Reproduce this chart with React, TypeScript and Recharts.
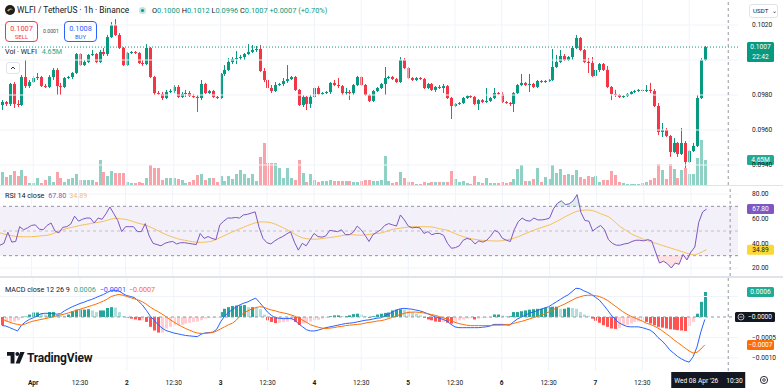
import React from "react";
import {
  ComposedChart,
  Bar,
  Line,
  Area,
  XAxis,
  YAxis,
  ReferenceLine,
  ReferenceArea,
} from "recharts";

// WLFI / USDT, 1h candles (Mar 31 16:30 .. Apr 8 04:30)
const candleOpen = [
  0.09743, 0.0976, 0.09749, 0.09863, 0.09749, 0.09743, 0.09903, 0.09851, 0.09874, 0.09897,
  0.09903, 0.09851, 0.09846, 0.09903, 0.09943, 0.09851, 0.09846, 0.09897, 0.09903, 0.09926,
  0.10034, 0.09971, 0.09989, 0.10029, 0.10034, 0.09989, 0.10046, 0.10034, 0.10131, 0.102,
  0.10143, 0.10069, 0.09971, 0.1004, 0.10046, 0.1004, 0.09983, 0.09977, 0.10069, 0.09903,
  0.09811, 0.09806, 0.09783, 0.09817, 0.09823, 0.09846, 0.09789, 0.09806, 0.09811, 0.09794,
  0.09789, 0.09783, 0.09863, 0.09811, 0.09823, 0.09789, 0.09783, 0.0992, 0.09943, 0.09989,
  0.10006, 0.10011, 0.10017, 0.10034, 0.10046, 0.10057, 0.10063, 0.09937, 0.09886, 0.0984,
  0.09823, 0.09857, 0.09863, 0.0988, 0.09891, 0.09903, 0.09829, 0.09743, 0.09789, 0.09749,
  0.09789, 0.0984, 0.09806, 0.09811, 0.09817, 0.09869, 0.09857, 0.09851, 0.09811, 0.09817,
  0.09811, 0.09857, 0.09903, 0.09857, 0.098, 0.09766, 0.09823, 0.0984, 0.09863, 0.09897,
  0.09903, 0.09891, 0.09874, 0.1, 0.09954, 0.09897, 0.09886, 0.09897, 0.09891, 0.0984,
  0.09863, 0.09829, 0.09846, 0.0984, 0.09851, 0.09783, 0.09737, 0.09749, 0.09754, 0.09783,
  0.09794, 0.09789, 0.09749, 0.09771, 0.0976, 0.09766, 0.09783, 0.09811, 0.09806, 0.0976,
  0.09754, 0.09749, 0.09811, 0.09857, 0.09869, 0.09857, 0.09863, 0.09846, 0.0988, 0.09874,
  0.0988, 0.09886, 0.0996, 0.09989, 0.10023, 0.1, 0.10017, 0.10069, 0.10126, 0.10057,
  0.09989, 0.09983, 0.09909, 0.09943, 0.09977, 0.09943, 0.09846, 0.09806, 0.098, 0.09789,
  0.09794, 0.09806, 0.09817, 0.09823, 0.09829, 0.09823, 0.09829, 0.09823, 0.09737, 0.09589,
  0.096, 0.09566, 0.09474, 0.09526, 0.09463, 0.09526, 0.09417, 0.0948, 0.09509, 0.09783,
  0.1,
];
const candleHigh = [
  0.09771, 0.09766, 0.09869, 0.09874, 0.09771, 0.09914, 0.1, 0.09886, 0.09909, 0.09926,
  0.09909, 0.09863, 0.09914, 0.09954, 0.09954, 0.09869, 0.09903, 0.09909, 0.09931, 0.1004,
  0.1004, 0.1, 0.10034, 0.10057, 0.1004, 0.10057, 0.10069, 0.10143, 0.10217, 0.10234,
  0.10154, 0.10074, 0.10046, 0.10051, 0.10051, 0.10046, 0.1, 0.10091, 0.10074, 0.09909,
  0.09823, 0.09817, 0.09829, 0.09834, 0.09857, 0.09857, 0.09817, 0.09829, 0.09823, 0.09806,
  0.098, 0.09886, 0.09869, 0.09829, 0.09829, 0.09794, 0.09926, 0.09971, 0.10011, 0.10017,
  0.10051, 0.10029, 0.1004, 0.10091, 0.10086, 0.1008, 0.10086, 0.09954, 0.09903, 0.09857,
  0.09874, 0.09869, 0.09897, 0.09971, 0.09909, 0.09909, 0.09834, 0.098, 0.09794, 0.098,
  0.09846, 0.09851, 0.09817, 0.09823, 0.09874, 0.09886, 0.09897, 0.09857, 0.0984, 0.09829,
  0.09863, 0.09909, 0.09909, 0.09863, 0.09806, 0.09829, 0.09846, 0.09869, 0.0996, 0.09909,
  0.09909, 0.09897, 0.10017, 0.10011, 0.0996, 0.09903, 0.09903, 0.09903, 0.09897, 0.09869,
  0.09869, 0.09851, 0.09857, 0.09863, 0.09857, 0.09789, 0.09754, 0.0976, 0.09789, 0.098,
  0.098, 0.09794, 0.09777, 0.09777, 0.0984, 0.09789, 0.0984, 0.09817, 0.09817, 0.09766,
  0.0976, 0.09817, 0.09863, 0.0992, 0.09874, 0.0992, 0.09869, 0.09886, 0.09886, 0.09886,
  0.09891, 0.10063, 0.10029, 0.10057, 0.10034, 0.10023, 0.1008, 0.10143, 0.10131, 0.10063,
  0.10011, 0.10017, 0.09949, 0.09983, 0.09983, 0.09966, 0.09851, 0.09829, 0.09806, 0.098,
  0.09811, 0.09823, 0.09829, 0.09834, 0.09834, 0.09857, 0.09869, 0.09834, 0.09754, 0.0964,
  0.09611, 0.09571, 0.09554, 0.09531, 0.09611, 0.09537, 0.09486, 0.09526, 0.098, 0.10011,
  0.1008,
];
const candleLow = [
  0.09714, 0.09737, 0.09737, 0.09726, 0.09731, 0.09737, 0.0984, 0.0984, 0.09869, 0.09886,
  0.09846, 0.0984, 0.0984, 0.09886, 0.098, 0.098, 0.0984, 0.09891, 0.09891, 0.0992,
  0.09966, 0.09966, 0.09983, 0.10023, 0.09983, 0.09983, 0.10023, 0.10023, 0.10126, 0.10137,
  0.10063, 0.09966, 0.09966, 0.10034, 0.10034, 0.09977, 0.09966, 0.09971, 0.09897, 0.098,
  0.098, 0.09771, 0.09777, 0.09811, 0.09811, 0.09783, 0.09783, 0.09789, 0.09789, 0.09783,
  0.09703, 0.09771, 0.09806, 0.09806, 0.09783, 0.09777, 0.09777, 0.09909, 0.09937, 0.09977,
  0.09977, 0.1, 0.1, 0.10029, 0.1004, 0.10046, 0.09931, 0.09874, 0.09829, 0.09811,
  0.09817, 0.09851, 0.09851, 0.09869, 0.09886, 0.09823, 0.09737, 0.09731, 0.09714, 0.09726,
  0.09783, 0.098, 0.098, 0.09806, 0.09806, 0.09851, 0.0984, 0.098, 0.098, 0.09771,
  0.098, 0.09851, 0.09851, 0.09794, 0.0976, 0.0976, 0.09817, 0.09834, 0.098, 0.09891,
  0.09886, 0.09869, 0.09869, 0.09949, 0.09891, 0.0988, 0.0988, 0.09886, 0.09834, 0.09834,
  0.09823, 0.09817, 0.09834, 0.09811, 0.09777, 0.09663, 0.09731, 0.09743, 0.09749, 0.09777,
  0.09783, 0.09743, 0.09714, 0.09754, 0.09754, 0.0976, 0.09777, 0.098, 0.09754, 0.09749,
  0.09737, 0.09703, 0.09806, 0.09851, 0.09851, 0.09817, 0.0984, 0.0984, 0.09869, 0.09869,
  0.09874, 0.0988, 0.09954, 0.09983, 0.09994, 0.09994, 0.1, 0.10063, 0.10051, 0.09983,
  0.09926, 0.09903, 0.09851, 0.09931, 0.09937, 0.0984, 0.09771, 0.09789, 0.09783, 0.09783,
  0.09789, 0.098, 0.09811, 0.09817, 0.09817, 0.09817, 0.09811, 0.09731, 0.09571, 0.0956,
  0.0956, 0.09446, 0.09469, 0.09446, 0.09457, 0.09383, 0.09411, 0.09474, 0.09503, 0.09777,
  0.09994,
];
const candleClose = [
  0.0976, 0.09749, 0.09863, 0.09749, 0.09743, 0.09903, 0.09851, 0.09874, 0.09897, 0.09903,
  0.09851, 0.09846, 0.09903, 0.09943, 0.09851, 0.09846, 0.09897, 0.09903, 0.09926, 0.10034,
  0.09971, 0.09989, 0.10029, 0.10034, 0.09989, 0.10046, 0.10034, 0.10131, 0.102, 0.10143,
  0.10069, 0.09971, 0.1004, 0.10046, 0.1004, 0.09983, 0.09977, 0.10069, 0.09903, 0.09811,
  0.09806, 0.09783, 0.09817, 0.09823, 0.09846, 0.09789, 0.09806, 0.09811, 0.09794, 0.09789,
  0.09783, 0.09863, 0.09811, 0.09823, 0.09789, 0.09783, 0.0992, 0.09943, 0.09989, 0.10006,
  0.10011, 0.10017, 0.10034, 0.10046, 0.10057, 0.10063, 0.09937, 0.09886, 0.0984, 0.09823,
  0.09857, 0.09863, 0.0988, 0.09891, 0.09903, 0.09829, 0.09743, 0.09789, 0.09749, 0.09789,
  0.0984, 0.09806, 0.09811, 0.09817, 0.09869, 0.09857, 0.09851, 0.09811, 0.09817, 0.09811,
  0.09857, 0.09903, 0.09857, 0.098, 0.09766, 0.09823, 0.0984, 0.09863, 0.09897, 0.09903,
  0.09891, 0.09874, 0.1, 0.09954, 0.09897, 0.09886, 0.09897, 0.09891, 0.0984, 0.09863,
  0.09829, 0.09846, 0.0984, 0.09851, 0.09783, 0.09737, 0.09749, 0.09754, 0.09783, 0.09794,
  0.09789, 0.09749, 0.09771, 0.0976, 0.09766, 0.09783, 0.09811, 0.09806, 0.0976, 0.09754,
  0.09749, 0.09811, 0.09857, 0.09869, 0.09857, 0.09863, 0.09846, 0.0988, 0.09874, 0.0988,
  0.09886, 0.0996, 0.09989, 0.10023, 0.1, 0.10017, 0.10069, 0.10126, 0.10057, 0.09989,
  0.09983, 0.09909, 0.09943, 0.09977, 0.09943, 0.09846, 0.09806, 0.098, 0.09789, 0.09794,
  0.09806, 0.09817, 0.09823, 0.09829, 0.09823, 0.09829, 0.09823, 0.09737, 0.09589, 0.096,
  0.09566, 0.09474, 0.09526, 0.09463, 0.09526, 0.09417, 0.0948, 0.09509, 0.09783, 0.1,
  0.10074,
];
// volume in millions of WLFI
const volumeM = [
  2.42, 1.49, 1.86, 2.6, 1.67, 2.79, 1.67, 0.37, 0.37, 1.3,
  0.37, 0.93, 1.67, 0.56, 2.42, 1.3, 0.56, 1.12, 1.3, 2.05,
  0.93, 0.93, 0.93, 0.93, 0.56, 4.65, 2.42, 1.67, 2.6, 2.23,
  2.23, 2.23, 0.56, 0.37, 0.37, 0.56, 0.37, 1.3, 3.72, 3.16,
  3.16, 0.93, 1.3, 1.3, 1.3, 1.12, 0.93, 0.37, 0.56, 0.93,
  1.86, 2.05, 0.93, 1.3, 1.3, 0.56, 1.67, 0.74, 1.67, 1.12,
  2.05, 2.79, 2.05, 1.3, 2.05, 0.74, 5.21, 7.81, 4.09, 4.09,
  4.09, 3.16, 1.3, 3.16, 1.3, 0.93, 4.65, 2.23, 0.56, 2.05,
  0.93, 0.56, 0.74, 0.74, 0.93, 0.74, 0.74, 0.74, 0.74, 0.74,
  0.56, 0.56, 0.74, 0.93, 0.93, 0.74, 0.74, 0.93, 5.39, 0.74,
  0.37, 0.56, 2.42, 1.3, 0.56, 0.56, 0.19, 0.19, 0.56, 0.37,
  0.56, 0.56, 0.56, 0.56, 0.56, 2.6, 1.12, 0.56, 0.74, 0.37,
  0.19, 1.67, 0.56, 0.37, 1.3, 0.37, 0.37, 0.37, 0.56, 0.37,
  0.56, 1.12, 2.98, 3.72, 0.74, 0.74, 1.12, 3.16, 0.56, 1.49,
  1.12, 3.72, 2.23, 2.98, 1.86, 2.05, 1.86, 2.79, 1.49, 1.12,
  1.67, 1.49, 1.67, 0.56, 0.93, 0.93, 2.6, 1.86, 0.56, 0.37,
  0.19, 0.19, 0.19, 0.19, 0.37, 0.56, 0.93, 1.3, 3.91, 2.79,
  1.12, 3.91, 2.98, 1.3, 2.79, 3.16, 2.05, 2.05, 5.02, 8.37,
  4.65,
];
const rsi14 = [
  38.5, 40, 49, 41, 41.5, 53.5, 51, 52.5, 54.5, 55,
  51.5, 51, 54.5, 56.5, 50, 48.5, 53, 53.5, 55.5, 62,
  58, 59.5, 60.5, 60.5, 56.5, 60.5, 59.5, 64, 69.5, 64,
  58.5, 49.5, 53.5, 53.5, 53.5, 49.5, 49.5, 56, 46, 40,
  39, 38, 40, 41, 41.5, 39.5, 40.5, 40.5, 40, 39.5,
  39, 48, 44, 45.5, 44, 43, 55, 58, 60.5, 60.5,
  61, 60.5, 63, 63.5, 64.5, 65.5, 53, 44, 40.5, 39.5,
  42, 44, 45.5, 47.5, 49.5, 41, 34.5, 40, 38, 43,
  48, 45.5, 45, 46, 50.5, 50, 49.5, 51, 47, 47,
  49, 54, 51, 46.5, 41.5, 47, 49, 51, 54.5, 56,
  55, 54, 63, 59, 54, 52.5, 53, 52.5, 48, 49.5,
  47, 48, 48, 46.5, 40, 36, 36.5, 38, 42.5, 44,
  43, 39.5, 42, 41, 42.5, 46, 50.5, 49, 44, 42.5,
  41.5, 51, 57.5, 60.5, 58.5, 58, 60.5, 59, 59, 59.5,
  60.5, 68, 72.5, 74.5, 71.5, 72, 74.5, 79.5, 65, 58.5,
  58, 50, 52.5, 54.5, 51, 43, 40, 38.5, 38.5, 39.5,
  40, 41.5, 42.5, 42.5, 42, 43, 42, 33, 24, 25.5,
  23.5, 20, 24, 23, 31, 26.5, 33, 37, 57, 65.5,
  67.8,
];
const rsiMa = [
  48.5, 47.5, 46.8, 46.2, 45.6, 45.4, 45.3, 45.3, 45.4, 45.6,
  45.9, 46.2, 46.5, 47.3, 48.5, 49.8, 51, 52, 52.8, 53.5,
  54.2, 54.9, 55.4, 56, 56.6, 57, 57.6, 58.4, 59.4, 60.2,
  60.2, 59.8, 59.5, 58.6, 57.6, 56.5, 55.7, 55, 53.6, 52.2,
  50.6, 49, 47.5, 46.2, 45, 44, 43.1, 42.5, 41.9, 41.3,
  40.9, 40.8, 40.9, 41.2, 41.8, 43, 44.5, 46, 47.5, 49,
  50.3, 51.7, 53, 54.3, 55.5, 56.6, 57.3, 57.4, 57.2, 56.8,
  55.7, 54.3, 52.8, 51.3, 49.6, 47.6, 45.9, 44.5, 43.8, 43.5,
  43.3, 43.5, 43.9, 44.3, 44.8, 45.1, 45.6, 46.2, 46.8, 47.1,
  46.9, 46.7, 46.6, 46.8, 47.2, 47.6, 48, 48.3, 49.2, 50.4,
  51.3, 51.9, 52.3, 52.8, 53.1, 53.4, 53.5, 53.5, 53.5, 53.4,
  53.3, 52.6, 51.8, 51.2, 50.6, 49.2, 47.8, 46.5, 45.4, 44.6,
  43.8, 43.2, 42.7, 42.4, 42.2, 42, 41.9, 41.9, 42.1, 42.7,
  43.4, 44.2, 45.4, 46.7, 48.1, 49.4, 50.6, 51.8, 52.9, 53.9,
  54.9, 56.5, 58, 59.8, 61.6, 63.2, 64.8, 66, 66.6, 67,
  67, 66.5, 65.4, 64, 62.8, 61.6, 59.2, 56.3, 53.5, 51.4,
  49.4, 47.3, 45.9, 44.6, 43.2, 42.1, 41, 40, 39.1, 38,
  37, 36, 35, 34, 33, 31.9, 31.1, 30.5, 31.8, 33.3,
  34.89,
];
const macdLine = [
  -0.00021, -0.00022, -0.00026, -0.0003, -0.00034, -0.0002, -0.00012, -0.00006, -0.00002, 0.00003,
  0.00008, 0.00009, 0.00009, 0.00009, 0.00007, 0.00008, 0.00015, 0.0002, 0.00025, 0.00029,
  0.00033, 0.00036, 0.0004, 0.00043, 0.00047, 0.00051, 0.00055, 0.0006, 0.00065, 0.00065,
  0.00063, 0.00057, 0.00052, 0.0005, 0.00047, 0.00038, 0.00029, 0.00016, 0.00002, -0.00008,
  -0.00019, -0.00027, -0.00033, -0.00036, -0.00039, -0.00041, -0.00043, -0.00045, -0.00046, -0.00047,
  -0.00048, -0.00042, -0.00039, -0.00038, -0.00037, -0.0003, -0.00012, 0.00002, 0.00011, 0.00018,
  0.00025, 0.0003, 0.00034, 0.00037, 0.00042, 0.00046, 0.00035, 0.00024, 0.00012, 0.00004,
  -0.00002, -0.00003, -0.00004, -0.00004, -0.00003, -0.00008, -0.00017, -0.00024, -0.00031, -0.00034,
  -0.00034, -0.00032, -0.00029, -0.00026, -0.00024, -0.00022, -0.0002, -0.00018, -0.00016, -0.00015,
  -0.00014, -0.00012, -0.0001, -0.00008, -0.00007, -0.00005, -0.00003, -0.00002, 0.00003, 0.00007,
  0.00012, 0.00017, 0.0002, 0.00021, 0.0002, 0.00019, 0.00017, 0.00015, 0.00012, 0.00008,
  0.00004, 0, -0.00003, -0.00006, -0.0001, -0.00018, -0.00024, -0.00026, -0.00026, -0.00026,
  -0.00026, -0.00026, -0.00026, -0.00025, -0.00024, -0.00022, -0.00018, -0.00018, -0.00018, -0.00019,
  -0.0002, -0.00012, -0.00005, 0, 0.00004, 0.00009, 0.00012, 0.00015, 0.00019, 0.00022,
  0.00025, 0.00031, 0.00037, 0.00043, 0.00049, 0.00054, 0.00062, 0.0007, 0.00069, 0.00064,
  0.0006, 0.00055, 0.00048, 0.00041, 0.0003, 0.00018, 0.00005, -0.00005, -0.00014, -0.00019,
  -0.00023, -0.00024, -0.00024, -0.00024, -0.00026, -0.00029, -0.00032, -0.00039, -0.0005, -0.00058,
  -0.00068, -0.0008, -0.00088, -0.00096, -0.00102, -0.00107, -0.0011, -0.00097, -0.00073, -0.00036,
  -0.00006,
];
const signalLine = [
  -0.00005, -0.00009, -0.00013, -0.00016, -0.00018, -0.0002, -0.00017, -0.00013, -0.0001, -0.00008,
  -0.00006, -0.00004, -0.00002, 0, 0.00003, 0.00005, 0.00007, 0.0001, 0.00013, 0.00016,
  0.00019, 0.00022, 0.00025, 0.00028, 0.00031, 0.00035, 0.00039, 0.00044, 0.0005, 0.00053,
  0.00055, 0.00053, 0.0005, 0.00047, 0.00044, 0.00041, 0.00037, 0.00031, 0.00024, 0.00018,
  0.00013, 0.00007, 0.00001, -0.00006, -0.00012, -0.00018, -0.00023, -0.00028, -0.00032, -0.00036,
  -0.00039, -0.0004, -0.0004, -0.00039, -0.00038, -0.00034, -0.00029, -0.00024, -0.00019, -0.00015,
  -0.00008, 0.00003, 0.0001, 0.00015, 0.0002, 0.00023, 0.00025, 0.00024, 0.0002, 0.00017,
  0.00015, 0.00012, 0.0001, 0.00008, 0.00005, 0.00002, -0.00003, -0.00008, -0.00013, -0.00019,
  -0.00022, -0.00025, -0.00027, -0.00028, -0.00027, -0.00026, -0.00024, -0.00023, -0.00021, -0.0002,
  -0.00019, -0.00018, -0.00017, -0.00015, -0.00013, -0.00012, -0.0001, -0.00009, -0.00007, -0.00004,
  -0.00001, 0.00003, 0.00006, 0.00009, 0.00011, 0.00012, 0.00012, 0.00011, 0.0001, 0.00008,
  0.00006, 0.00004, 0.00001, -0.00002, -0.00005, -0.00009, -0.00013, -0.00016, -0.00018, -0.0002,
  -0.00021, -0.00021, -0.00021, -0.00021, -0.00021, -0.00021, -0.0002, -0.0002, -0.0002, -0.00019,
  -0.00018, -0.00016, -0.00013, -0.00011, -0.00008, -0.00005, -0.00002, 0.00001, 0.00004, 0.00008,
  0.00012, 0.00017, 0.00022, 0.00027, 0.00031, 0.00036, 0.00041, 0.00046, 0.00049, 0.00052,
  0.00053, 0.00053, 0.00052, 0.0005, 0.00046, 0.00041, 0.00034, 0.00027, 0.0002, 0.00013,
  0.00007, 0.00002, -0.00002, -0.00006, -0.0001, -0.00015, -0.00018, -0.00022, -0.00027, -0.00033,
  -0.0004, -0.00047, -0.00055, -0.00062, -0.00069, -0.00076, -0.00083, -0.00088, -0.00086, -0.00078,
  -0.00068,
];
const macdHist = [
  -0.0002, -0.00012, -0.00012, -0.00011, -0.00008, -0.00002, 0.00001, 0.00006, 0.00011, 0.00011,
  0.00008, 0.00006, 0.00012, 0.00012, 0.00006, 0.00004, 0.00002, 0.00006, 0.00014, 0.00018,
  0.00018, 0.00018, 0.00019, 0.00016, 0.00012, 0.00016, 0.00016, 0.00022, 0.00024, 0.00023,
  0.00012, 0.00002, -0.00002, -0.00004, -0.00006, -0.00008, -0.00008, -0.00012, -0.00024, -0.00033,
  -0.00038, -0.00038, -0.00028, -0.00024, -0.0002, -0.0002, -0.00019, -0.00016, -0.00014, -0.00012,
  -0.00011, -0.00008, -0.00004, -0.00002, -0.00002, -0.00001, 0.00012, 0.0002, 0.00024, 0.00027,
  0.00028, 0.00028, 0.00029, 0.00024, 0.00024, 0.00023, 0.00019, 0.00006, -0.00008, -0.00012,
  -0.00015, -0.00014, -0.00012, -0.00011, -0.00008, -0.00012, -0.00019, -0.00016, -0.00014, -0.00011,
  -0.00008, -0.00007, -0.00004, -0.00002, 0.00002, 0.00004, 0.00004, 0.00002, 0.00002, 0.00004,
  0.00007, 0.00008, 0.00006, 0.00002, -0.00002, 0.00002, 0.00006, 0.00008, 0.0001, 0.00011,
  0.00016, 0.00018, 0.00019, 0.00018, 0.00016, 0.00012, 0.00008, 0.00004, -0.00002, -0.00006,
  -0.00008, -0.00011, -0.00012, -0.00012, -0.00014, -0.00016, -0.00012, -0.00008, -0.00006, -0.00004,
  -0.00002, -0.00006, -0.00004, -0.00002, -0.00002, -0.00002, 0.00006, 0.00006, 0.00004, 0.00002,
  0.00002, 0.00012, 0.00012, 0.00014, 0.00016, 0.00018, 0.00019, 0.0002, 0.0002, 0.00023,
  0.00024, 0.00025, 0.00025, 0.0002, 0.0002, 0.00023, 0.00022, 0.0002, 0.00012, 0.00006,
  0.00003, -0.00004, -0.00009, -0.00014, -0.0002, -0.00024, -0.00028, -0.00029, -0.00027, -0.0002,
  -0.00019, -0.00016, -0.00012, -0.00011, -0.00008, -0.00012, -0.00016, -0.0002, -0.00024, -0.00026,
  -0.00028, -0.0003, -0.00031, -0.00032, -0.00033, -0.00034, -0.00022, -0.00012, 0.00008, 0.00037,
  0.00061,
];

// day / midday marks on the time scale (hour slots); the Apr 8 mark sits under the crosshair tag
const gridSlots = [8, 20, 32, 44, 56, 68, 80, 92, 104, 116, 128, 140, 152, 164, 176];
const timeSlots = [8, 20, 32, 44, 56, 68, 80, 92, 104, 116, 128, 140, 152, 164];
const timeLabels = ["Apr", "12:30", "2", "12:30", "3", "12:30", "4", "12:30", "5", "12:30", "6", "12:30", "7", "12:30"];
const priceTicks = [0.094, 0.096, 0.098, 0.102];
const priceGrid = [0.094, 0.096, 0.098, 0.1, 0.102];
const rsiTicks = [20, 40, 60, 80];
const macdTicks = [-0.001, -0.0005];
const macdGrid = [0.0005, -0.0005, -0.001];

const SLOTS = 189; // hourly slots, incl. empty space right of the last candle
const CROSS_SLOT = 186; // Wed 08 Apr 10:30
const FONT = "Roboto, 'Noto Sans', Arial, sans-serif";
const UP = "#089981";
const DOWN = "#f23645";
const TEXT = "#131722";
const GRID = "#f0f3fa";
const CROSS = "#9598a1";

const rows = Array.from({ length: SLOTS }, (_, i) => ({
  slot: i,
  o: candleOpen[i] ?? null,
  h: candleHigh[i] ?? null,
  l: candleLow[i] ?? null,
  c: candleClose[i] ?? null,
  v: volumeM[i] ?? null,
  rsi: rsi14[i] ?? null,
  rsiMa: rsiMa[i] ?? null,
  macd: macdLine[i] ?? null,
  signal: signalLine[i] ?? null,
  hist: macdHist[i] ?? null,
}));
const last = candleClose.length - 1;

const tickStyle = { fontSize: 6.6, fill: TEXT, fontFamily: FONT };

const Candle = (props: any) => {
  const { x, y, width, height, payload } = props;
  if (!payload || payload.o == null) return null;
  const top = Math.min(y, y + height);
  const span = Math.abs(height);
  const k = payload.h > payload.l ? span / (payload.h - payload.l) : 0;
  const yO = top + (payload.h - payload.o) * k;
  const yC = top + (payload.h - payload.c) * k;
  const color = payload.c >= payload.o ? UP : DOWN;
  const cx = Math.round(x + width / 2);
  return (
    <g>
      <line x1={cx + 0.5} x2={cx + 0.5} y1={top} y2={top + span} stroke={color} strokeWidth={1} />
      <rect x={cx - 1} y={Math.min(yO, yC)} width={3} height={Math.max(1, Math.abs(yC - yO))} fill={color} />
    </g>
  );
};

const VolumeBar = (props: any) => {
  const { x, y, width, height, payload } = props;
  if (!payload || payload.v == null) return null;
  const cx = Math.round(x + width / 2);
  const fill = payload.c >= payload.o ? "rgba(8,153,129,0.45)" : "rgba(242,54,69,0.45)";
  return <rect x={cx - 1} y={Math.min(y, y + height)} width={3} height={Math.abs(height)} fill={fill} />;
};

const HistBar = (props: any) => {
  const { x, y, width, height, payload, index } = props;
  if (!payload || payload.hist == null) return null;
  const v = payload.hist;
  const prev = index > 0 ? macdHist[index - 1] : 0;
  let fill;
  if (v >= 0) fill = v >= prev ? "#26a69a" : "#b2dfdb";
  else fill = v < prev ? "#ff5252" : "#ffcdd2";
  const cx = Math.round(x + width / 2);
  return <rect x={cx - 1} y={Math.min(y, y + height)} width={3} height={Math.max(0.5, Math.abs(height))} fill={fill} />;
};

// value tags on the right-hand scale
const AxisTag = (props: any) => {
  const { viewBox, txt, sub, bg, fg = "#fff", wide } = props;
  if (!viewBox) return null;
  const x = viewBox.x + viewBox.width + (wide ? -3 : 9);
  const w = wide ? 40 : 27;
  const h = sub ? 20 : 10;
  const y = viewBox.y - 5;
  return (
    <g>
      <rect x={x} y={y} width={w} height={h} rx={1.5} fill={bg} />
      {wide && <circle cx={x + 6} cy={viewBox.y} r={3} fill="none" stroke="#fff" strokeWidth={0.7} />}
      {wide && <line x1={x + 4.5} x2={x + 7.5} y1={viewBox.y} y2={viewBox.y} stroke="#fff" strokeWidth={0.7} />}
      <text x={wide ? x + 25 : x + w / 2} y={viewBox.y + 2.4} textAnchor="middle" fontSize={6.6} fill={fg} fontFamily={FONT}>
        {txt}
      </text>
      {sub && (
        <text x={x + w / 2} y={viewBox.y + 11.5} textAnchor="middle" fontSize={6.6} fill={fg} fontFamily={FONT}>
          {sub}
        </text>
      )}
    </g>
  );
};

const TimeTag = (props: any) => {
  const { viewBox } = props;
  if (!viewBox) return null;
  const y = viewBox.y + viewBox.height + 1;
  return (
    <g>
      <rect x={viewBox.x - 57} y={y} width={74} height={16} fill={TEXT} />
      <text x={viewBox.x - 54} y={y + 10.5} fontSize={6.6} fill="#fff" fontFamily={FONT}>
        Wed 08 Apr '26
      </text>
      <text x={viewBox.x - 2} y={y + 10.5} fontSize={6.6} fill="#fff" fontFamily={FONT}>
        10:30
      </text>
    </g>
  );
};

const TimeTick = (props: any) => {
  const { x, y, payload } = props;
  const i = timeSlots.indexOf(payload.value);
  const label = timeLabels[i] ?? "";
  const isDay = label !== "12:30";
  return (
    <text x={x} y={y + 6} textAnchor="middle" fontSize={6.6} fill={TEXT} fontFamily={FONT} fontWeight={isDay ? 700 : 400}>
      {label}
    </text>
  );
};

const fmtMacd = (v: number) => (v < 0 ? "\u2212" : "") + Math.abs(v).toFixed(4);

const PriceChart = () => (
  <ComposedChart width={783} height={185} data={rows} margin={{ top: 0, right: 0, bottom: 0, left: 0 }}>
    <XAxis xAxisId="c" dataKey="slot" hide />
    <XAxis xAxisId="v" dataKey="slot" hide />
    <YAxis
      yAxisId="p"
      orientation="right"
      width={45}
      domain={[0.092857, 0.103429]}
      allowDataOverflow
      ticks={priceTicks}
      tickFormatter={(v: number) => v.toFixed(4)}
      axisLine={false}
      tickLine={false}
      tickMargin={8}
      tick={tickStyle}
    />
    <YAxis yAxisId="v" hide domain={[0, 34.4]} allowDataOverflow />
    {priceGrid.map((t) => (
      <ReferenceLine key={"pg" + t} xAxisId="c" yAxisId="p" y={t} stroke={GRID} />
    ))}
    {gridSlots.map((s) => (
      <ReferenceLine key={"pv" + s} xAxisId="c" yAxisId="p" x={s} stroke={GRID} />
    ))}
    <Bar xAxisId="v" yAxisId="v" dataKey="v" shape={VolumeBar} isAnimationActive={false} />
    <Bar
      xAxisId="c"
      yAxisId="p"
      dataKey={(d: any) => (d.l == null ? null : [d.l, d.h])}
      shape={Candle}
      isAnimationActive={false}
    />
    <ReferenceLine
      xAxisId="c"
      yAxisId="p"
      y={candleClose[last]}
      stroke={UP}
      strokeDasharray="1 2"
      label={(p: any) => <AxisTag {...p} txt={candleClose[last].toFixed(4)} sub="22:42" bg={UP} />}
    />
    <ReferenceLine
      xAxisId="c"
      yAxisId="v"
      y={volumeM[last]}
      stroke="none"
      label={(p: any) => <AxisTag {...p} txt={volumeM[last].toFixed(2) + "M"} bg="#22ab94" />}
    />
    <ReferenceLine xAxisId="c" yAxisId="p" x={CROSS_SLOT} stroke={CROSS} strokeDasharray="3 3" />
  </ComposedChart>
);

const RsiChart = () => (
  <ComposedChart width={783} height={90} data={rows} margin={{ top: 0, right: 0, bottom: 0, left: 0 }}>
    <XAxis dataKey="slot" hide />
    <YAxis
      orientation="right"
      width={45}
      domain={[13.51, 86.49]}
      allowDataOverflow
      ticks={rsiTicks}
      tickFormatter={(v: number) => v.toFixed(2)}
      axisLine={false}
      tickLine={false}
      tickMargin={8}
      tick={tickStyle}
    />
    <ReferenceArea y1={30} y2={70} fill="#7e57c2" fillOpacity={0.09} stroke="none" />
    {rsiTicks.map((t) => (
      <ReferenceLine key={"rg" + t} y={t} stroke={GRID} />
    ))}
    {gridSlots.map((s) => (
      <ReferenceLine key={"rv" + s} x={s} stroke={GRID} />
    ))}
    <ReferenceLine y={70} stroke="#787b86" strokeDasharray="3 3" strokeWidth={0.8} />
    <ReferenceLine y={50} stroke="#b2b5be" strokeDasharray="3 3" strokeWidth={0.8} />
    <ReferenceLine y={30} stroke="#787b86" strokeDasharray="3 3" strokeWidth={0.8} />
    <Area
      dataKey={(d: any) => (d.rsi == null ? null : [Math.min(d.rsi, 30), 30])}
      type="linear"
      stroke="none"
      fill="#f23645"
      fillOpacity={0.15}
      isAnimationActive={false}
    />
    <Area
      dataKey={(d: any) => (d.rsi == null ? null : [70, Math.max(d.rsi, 70)])}
      type="linear"
      stroke="none"
      fill="#089981"
      fillOpacity={0.15}
      isAnimationActive={false}
    />
    <Line dataKey="rsiMa" stroke="#f5c15a" strokeWidth={1} dot={false} isAnimationActive={false} />
    <Line dataKey="rsi" stroke="#7e57c2" strokeWidth={1} dot={false} isAnimationActive={false} />
    <ReferenceLine x={CROSS_SLOT} stroke={CROSS} strokeDasharray="3 3" />
    <ReferenceLine
      y={rsi14[last]}
      stroke="none"
      label={(p: any) => <AxisTag {...p} txt={rsi14[last].toFixed(2)} bg="#7e57c2" />}
    />
    <ReferenceLine
      y={rsiMa[last]}
      stroke="none"
      label={(p: any) => <AxisTag {...p} txt={rsiMa[last].toFixed(2)} bg="#fdd835" fg={TEXT} />}
    />
  </ComposedChart>
);

const MacdChart = () => (
  <ComposedChart width={783} height={110} data={rows} margin={{ top: 0, right: 0, bottom: 0, left: 0 }}>
    <XAxis
      dataKey="slot"
      ticks={timeSlots}
      interval={0}
      axisLine={false}
      tickLine={false}
      height={17}
      tick={<TimeTick />}
    />
    <YAxis
      orientation="right"
      width={45}
      domain={[-0.001317, 0.000951]}
      allowDataOverflow
      ticks={macdTicks}
      tickFormatter={fmtMacd}
      axisLine={false}
      tickLine={false}
      tickMargin={8}
      tick={tickStyle}
    />
    {macdGrid.map((t) => (
      <ReferenceLine key={"mg" + t} y={t} stroke={GRID} />
    ))}
    {gridSlots.map((s) => (
      <ReferenceLine key={"mv" + s} x={s} stroke={GRID} />
    ))}
    <Bar dataKey="hist" shape={HistBar} isAnimationActive={false} />
    <Line dataKey="macd" stroke="#2962ff" strokeWidth={1} dot={false} isAnimationActive={false} />
    <Line dataKey="signal" stroke="#ff6d00" strokeWidth={1} dot={false} isAnimationActive={false} />
    <ReferenceLine
      y={0}
      stroke={CROSS}
      strokeDasharray="3 3"
      label={(p: any) => <AxisTag {...p} txt={"\u22120.0000"} bg={TEXT} wide />}
    />
    <ReferenceLine x={CROSS_SLOT} stroke={CROSS} strokeDasharray="3 3" label={(p: any) => <TimeTag {...p} />} />
    <ReferenceLine
      y={macdHist[last]}
      stroke="none"
      label={(p: any) => <AxisTag {...p} txt={fmtMacd(macdHist[last])} bg="#22ab94" />}
    />
    <ReferenceLine
      y={signalLine[last]}
      stroke="none"
      label={(p: any) => <AxisTag {...p} txt={fmtMacd(signalLine[last])} bg="#ff6d00" />}
    />
  </ComposedChart>
);

const abs = (left: number, top: number, size: number, color: string, extra: any = {}) => ({
  position: "absolute" as const,
  left,
  top,
  fontSize: size,
  color,
  lineHeight: 1,
  whiteSpace: "nowrap" as const,
  ...extra,
});

export default function App() {
  const tealTxt = { color: UP };
  return (
    <div style={{ position: "absolute", left: 0, top: 0, width: 783, height: 388, background: "#fff", overflow: "hidden", fontFamily: FONT }}>
      <div style={{ position: "absolute", left: 0, top: 0 }}>
        <PriceChart />
      </div>
      <div style={{ position: "absolute", left: 0, top: 185, width: 783, height: 1, background: "#e0e3eb" }} />
      <div style={{ position: "absolute", left: 0, top: 186 }}>
        <RsiChart />
      </div>
      <div style={{ position: "absolute", left: 0, top: 276, width: 783, height: 2, background: "#e0e3eb" }} />
      <div style={{ position: "absolute", left: 0, top: 278 }}>
        <MacdChart />
      </div>

      {/* legend: symbol row */}
      <svg style={{ position: "absolute", left: 5, top: 5 }} width={10} height={10}>
        <circle cx={5} cy={5} r={5} fill="#1e1e1e" />
        <path d="M2 5.5 Q5 2 8 4.5 Q5 4 3.5 6.5 Z" fill="#d4a84b" />
      </svg>
      <div style={abs(17, 6, 8.4, TEXT)}>WLFI / TetherUS · 1h · Binance</div>
      <div style={{ position: "absolute", left: 139, top: 7, width: 7, height: 7, borderRadius: 4, background: "rgba(8,153,129,0.25)" }} />
      <div style={{ position: "absolute", left: 141, top: 9, width: 3, height: 3, borderRadius: 2, background: UP }} />
      <div style={abs(152, 6.5, 7.4, TEXT)}>
        O<span style={tealTxt}>0.1000</span> H<span style={tealTxt}>0.1012</span> L<span style={tealTxt}>0.0996</span> C
        <span style={tealTxt}>0.1007</span> <span style={tealTxt}>+0.0007 (+0.70%)</span>
      </div>

      {/* sell / buy buttons */}
      <div style={{ position: "absolute", left: 5, top: 21, width: 33, height: 21, border: "1px solid #f23645", borderRadius: 4, boxSizing: "border-box", textAlign: "center", color: DOWN }}>
        <div style={{ fontSize: 7.4, lineHeight: 1, marginTop: 3 }}>0.1007</div>
        <div style={{ fontSize: 6, lineHeight: 1, marginTop: 2 }}>SELL</div>
      </div>
      <div style={abs(43, 29, 5.2, "#434651")}>0.0001</div>
      <div style={{ position: "absolute", left: 64, top: 21, width: 33, height: 21, border: "1px solid #2962ff", borderRadius: 4, boxSizing: "border-box", textAlign: "center", color: "#2962ff" }}>
        <div style={{ fontSize: 7.4, lineHeight: 1, marginTop: 3 }}>0.1008</div>
        <div style={{ fontSize: 6, lineHeight: 1, marginTop: 2 }}>BUY</div>
      </div>

      <div style={abs(5, 47.5, 7.2, TEXT)}>
        Vol · WLFI <span style={{ color: "#22ab94", marginLeft: 3 }}>4.65M</span>
      </div>
      <div style={{ position: "absolute", left: 6, top: 62, width: 14, height: 12, border: "1px solid #e0e3eb", borderRadius: 3, boxSizing: "border-box" }}>
        <svg width={12} height={10} style={{ position: "absolute", left: 0, top: 0 }}>
          <path d="M4 6 L6 4 L8 6" fill="none" stroke={TEXT} strokeWidth={0.9} />
        </svg>
      </div>

      {/* right top currency button */}
      <div style={{ position: "absolute", left: 749, top: 4, width: 29, height: 14, border: "1px solid #e0e3eb", borderRadius: 3, boxSizing: "border-box", fontSize: 6.2, color: TEXT, lineHeight: "12px", paddingLeft: 3 }}>
        USDT <span style={{ fontSize: 5.5, marginLeft: 2 }}>⌄</span>
      </div>

      {/* RSI legend */}
      <div style={abs(5, 191.5, 7.2, TEXT)}>
        RSI 14 close <span style={{ color: "#7e57c2", marginLeft: 2 }}>67.80</span>
        <span style={{ color: "#f5c15a", marginLeft: 3 }}>34.89</span>
      </div>

      {/* MACD legend */}
      <div style={abs(5, 285.5, 7.2, TEXT)}>
        MACD close 12 26 9 <span style={{ color: "#22ab94", marginLeft: 2 }}>0.0006</span>
        <span style={{ color: "#2962ff", marginLeft: 4 }}>{"\u22120.0001"}</span>
        <span style={{ color: "#ff6d00", marginLeft: 3 }}>{"\u22120.0007"}</span>
      </div>

      {/* TradingView watermark */}
      <svg style={{ position: "absolute", left: 7, top: 352 }} width={18} height={12}>
        <path d="M0 0 H7.5 V11.5 H3.6 V3.8 H0 Z" fill={TEXT} />
        <circle cx={10.3} cy={2} r={1.9} fill={TEXT} />
        <path d="M13.2 0 H17.6 L12.8 11.5 H8.6 Z" fill={TEXT} />
      </svg>
      <div style={abs(27, 351.5, 12, TEXT, { fontWeight: 700, letterSpacing: -0.2 })}>TradingView</div>

      {/* settings glyph bottom right */}
      <svg style={{ position: "absolute", left: 759, top: 375 }} width={10} height={10}>
        <circle cx={5} cy={5} r={3.6} fill="none" stroke={TEXT} strokeWidth={0.9} />
        <circle cx={5} cy={5} r={1.3} fill="none" stroke={TEXT} strokeWidth={0.8} />
      </svg>
    </div>
  );
}
